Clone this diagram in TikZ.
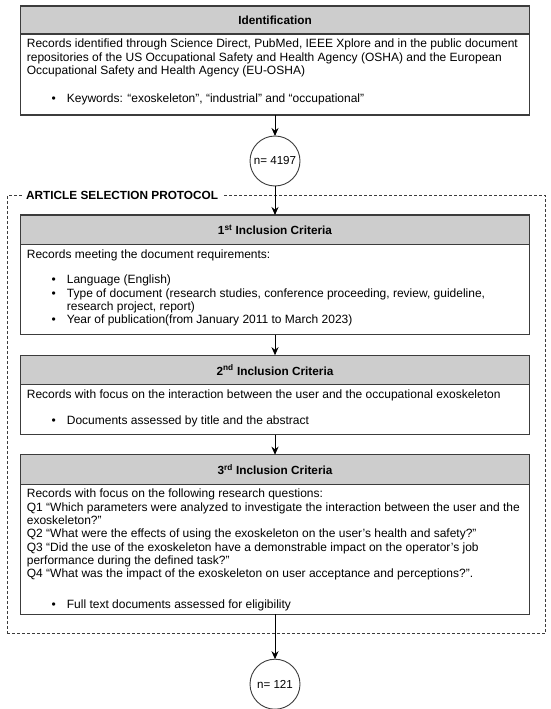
\documentclass[tikz,border=0pt]{standalone}
\usepackage{fontspec}
\setmainfont{Liberation Sans}
\usepackage{xcolor}
\usetikzlibrary{positioning,arrows.meta}
\pgfdeclarelayer{nodelayer}
\pgfdeclarelayer{edgelayer}
\pgfsetlayers{main,nodelayer,edgelayer}
\definecolor{boxline}{RGB}{60,60,60}
\definecolor{headgray}{RGB}{205,205,205}
\tikzstyle{head_box}=[rectangle, draw=boxline, fill=headgray, line width=1.1pt, minimum width=508.6pt, minimum height=29.5pt, inner sep=0pt, outer sep=0pt, font=\fontsize{11.8}{13.3}\selectfont\bfseries]
\tikzstyle{body_box}=[rectangle, draw=boxline, fill=white, line width=1.1pt, minimum width=508.6pt, inner sep=0pt, outer sep=0pt]
\tikzstyle{body_text}=[anchor=north west, align=left, inner sep=0pt, font=\fontsize{12}{13.3}\selectfont]
\tikzstyle{count_node}=[circle, draw=boxline, fill=white, line width=0.9pt, minimum size=50pt, inner sep=0pt, outer sep=0pt, font=\fontsize{11.6}{13}\selectfont]
\tikzstyle{flowChan}=[-{Stealth[length=8pt,width=7pt]}, draw=black, line width=0.9pt]
\tikzstyle{sel_frame}=[rectangle, draw=boxline, line width=0.9pt, dash pattern=on 3pt off 2pt, inner sep=0pt]
\tikzstyle{sel_label}=[fill=white, anchor=west, inner xsep=4pt, inner ysep=1pt, font=\fontsize{11.8}{13.3}\selectfont\bfseries]
\newcommand{\bpoint}[1]{\hspace*{24.6pt}\makebox[15.4pt][l]{\textbullet}#1}
\newcommand{\bnext}[1]{\hspace*{40pt}#1}
\newcommand{\fstrut}{\rule{0pt}{10pt}}

\begin{document}
\begin{tikzpicture}[x=1pt, y=1pt]
        \useasboundingbox (0,0) rectangle (550,-709);
        % selection protocol frame
        \node [style=sel_frame, minimum width=538.3pt, minimum height=438pt, anchor=north west] (Sel) at (6.7,-195) {};

        \begin{pgfonlayer}{nodelayer}
            \node [style=sel_label] (SelL) at ([xshift=15.3pt]Sel.north west) {ARTICLE SELECTION PROTOCOL};

            %Identification
            \node [style=head_box, minimum height=28pt, anchor=north] (IdH) at (275,-6) {Identification};
            \node [style=body_box, minimum height=81pt, below=0pt of IdH] (IdB) {};
            \node [style=count_node, below=21pt of IdB] (N1) {n= 4197};

            %1st criteria
            \node [style=head_box, below=29pt of N1] (H1) {1\textsuperscript{st} Inclusion Criteria};
            \node [style=body_box, minimum height=90pt, below=0pt of H1] (B1) {};

            %2nd criteria
            \node [style=head_box, below=20.7pt of B1] (H2) {2\textsuperscript{nd} Inclusion Criteria};
            \node [style=body_box, minimum height=50pt, below=0pt of H2] (B2) {};

            %3rd criteria
            \node [style=head_box, below=20pt of B2] (H3) {3\textsuperscript{rd} Inclusion Criteria};
            \node [style=body_box, minimum height=130pt, below=0pt of H3] (B3) {};
            \node [style=count_node, below=45pt of B3] (N2) {n= 121};

            % box texts
            \node [style=body_text] (IdT) at ([xshift=6pt, yshift=-3.5pt]IdB.north west) {\fstrut Records identified through Science Direct, PubMed, IEEE Xplore and in the public document\\
                repositories of the US Occupational Safety and Health Agency (OSHA) and the European\\
                Occupational Safety and Health Agency (EU-OSHA)\\[14.6pt]
                \bpoint{Keywords: “exoskeleton”, “industrial” and “occupational”}};
            \node [style=body_text] (T1) at ([xshift=6pt, yshift=-3.5pt]B1.north west) {\fstrut Records meeting the document requirements:\\[12.4pt]
                \bpoint{Language (English)}\\
                \bpoint{Type of document (research studies, conference proceeding, review, guideline,}\\
                \bnext{research project, report)}\\
                \bpoint{Year of publication(from January 2011 to March 2023)}};
            \node [style=body_text] (T2) at ([xshift=6pt, yshift=-3.5pt]B2.north west) {\fstrut Records with focus on the interaction between the user and the occupational exoskeleton\\[12.7pt]
                \bpoint{Documents assessed by title and the abstract}};
            \node [style=body_text] (T3) at ([xshift=6pt, yshift=-3.5pt]B3.north west) {\fstrut Records with focus on the following research questions:\\
                Q1 “Which parameters were analyzed to investigate the interaction between the user and the\\
                exoskeleton?”\\
                Q2 “What were the effects of using the exoskeleton on the user’s health and safety?”\\
                Q3 “Did the use of the exoskeleton have a demonstrable impact on the operator’s job\\
                performance during the defined task?”\\
                Q4 “What was the impact of the exoskeleton on user acceptance and perceptions?”.\\[17pt]
                \bpoint{Full text documents assessed for eligibility}};
        \end{pgfonlayer}

        \begin{pgfonlayer}{edgelayer}
                \draw [style={flowChan}] (IdB) to (N1);
                \draw [style={flowChan}] (N1) to (H1);
                \draw [style={flowChan}] (B1) to (H2);
                \draw [style={flowChan}] (B2) to (H3);
                \draw [style={flowChan}] (B3) to (N2);
        \end{pgfonlayer}
    \end{tikzpicture}
\end{document}
